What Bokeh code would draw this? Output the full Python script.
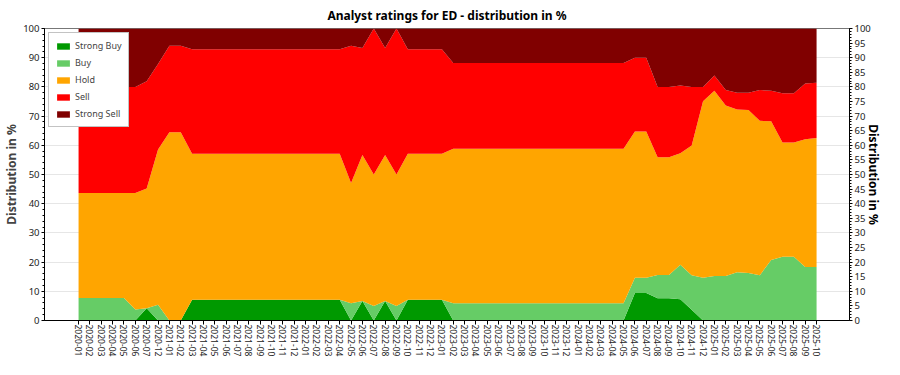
import math
from bokeh.plotting import figure
from bokeh.models import (Range1d, LinearAxis, FixedTicker, SingleIntervalTicker,
                          ColumnDataSource)
from bokeh.embed import file_html
from bokeh.resources import INLINE

months = [
    "2020-01", "2020-02", "2020-03", "2020-04", "2020-05", "2020-06", "2020-07", "2020-12",
    "2021-01", "2021-02", "2021-03", "2021-04", "2021-05", "2021-06", "2021-07", "2021-08",
    "2021-09", "2021-10", "2021-11", "2021-12",
    "2022-01", "2022-02", "2022-03", "2022-04", "2022-05", "2022-06", "2022-07", "2022-08",
    "2022-09", "2022-10", "2022-11", "2022-12",
    "2023-01", "2023-02", "2023-03", "2023-04", "2023-05", "2023-06", "2023-07", "2023-08",
    "2023-09", "2023-10", "2023-11", "2023-12",
    "2024-01", "2024-02", "2024-03", "2024-04", "2024-05", "2024-06", "2024-07", "2024-08",
    "2024-09", "2024-10", "2024-11", "2024-12",
    "2025-01", "2025-02", "2025-03", "2025-04", "2025-05", "2025-06", "2025-07", "2025-08",
    "2025-09", "2025-10",
]

strong_buy = [
    0, 0, 0, 0, 0, 0, 4.2, 0,
    0, 0, 7.1, 7.1, 7.1, 7.1, 7.1, 7.1, 7.1, 7.1, 7.1, 7.1,
    7.1, 7.1, 7.1, 7.1, 0, 6.7, 0, 6.7, 0, 7.1, 7.1, 7.1,
    7.1, 0, 0, 0, 0, 0, 0, 0, 0, 0, 0, 0,
    0, 0, 0, 0, 0, 9.4, 9.4, 7.6, 7.6, 7.3, 3.7, 0,
    0, 0, 0, 0, 0, 0, 0, 0, 0, 0,
]
buy = [
    7.7, 7.7, 7.7, 7.7, 7.7, 3.8, 0, 5.4,
    0, 0, 0, 0, 0, 0, 0, 0, 0, 0, 0, 0,
    0, 0, 0, 0, 5.9, 0, 5.0, 0, 5.0, 0, 0, 0,
    0, 5.9, 5.9, 5.9, 5.9, 5.9, 5.9, 5.9, 5.9, 5.9, 5.9, 5.9,
    5.9, 5.9, 5.9, 5.9, 5.9, 5.2, 5.2, 8.0, 8.0, 11.8, 11.8, 14.6,
    15.2, 15.2, 16.5, 16.3, 15.5, 20.7, 21.8, 21.8, 18.3, 18.3,
]
hold = [
    36.0, 36.0, 36.0, 36.0, 36.0, 39.9, 41.0, 53.2,
    64.5, 64.5, 50.0, 50.0, 50.0, 50.0, 50.0, 50.0, 50.0, 50.0, 50.0, 50.0,
    50.0, 50.0, 50.0, 50.0, 41.2, 50.0, 45.0, 50.0, 45.0, 50.0, 50.0, 50.0,
    50.0, 52.9, 52.9, 52.9, 52.9, 52.9, 52.9, 52.9, 52.9, 52.9, 52.9, 52.9,
    52.9, 52.9, 52.9, 52.9, 52.9, 50.1, 50.1, 40.3, 40.3, 38.2, 44.4, 60.5,
    63.5, 58.4, 55.8, 55.8, 52.9, 47.5, 39.2, 39.2, 43.8, 44.2,
]
sell = [
    36.3, 36.3, 36.3, 36.3, 36.3, 36.3, 36.7, 29.2,
    29.6, 29.6, 35.8, 35.8, 35.8, 35.8, 35.8, 35.8, 35.8, 35.8, 35.8, 35.8,
    35.8, 35.8, 35.8, 35.8, 47.0, 36.6, 50.0, 36.6, 50.0, 35.8, 35.8, 35.8,
    35.8, 29.4, 29.4, 29.4, 29.4, 29.4, 29.4, 29.4, 29.4, 29.4, 29.4, 29.4,
    29.4, 29.4, 29.4, 29.4, 29.4, 25.3, 25.3, 24.1, 24.1, 23.2, 20.1, 4.9,
    5.2, 5.3, 5.7, 5.9, 10.5, 10.5, 16.8, 16.8, 19.1, 18.9,
]
strong_sell = [
    20.0, 20.0, 20.0, 20.0, 20.0, 20.0, 18.1, 12.2,
    5.9, 5.9, 7.1, 7.1, 7.1, 7.1, 7.1, 7.1, 7.1, 7.1, 7.1, 7.1,
    7.1, 7.1, 7.1, 7.1, 5.9, 6.7, 0, 6.7, 0, 7.1, 7.1, 7.1,
    7.1, 11.8, 11.8, 11.8, 11.8, 11.8, 11.8, 11.8, 11.8, 11.8, 11.8, 11.8,
    11.8, 11.8, 11.8, 11.8, 11.8, 10.0, 10.0, 20.0, 20.0, 19.5, 20.0, 20.0,
    16.1, 21.1, 22.0, 22.0, 21.1, 21.3, 22.2, 22.2, 18.8, 18.6,
]

series_names = ["Strong Buy", "Buy", "Hold", "Sell", "Strong Sell"]
colors = ["#009900", "#66cc66", "#ffa500", "#ff0000", "#800000"]
axis_title = "Distribution in %"

FONT = "Noto Sans"

x_idx = list(range(len(months)))
x_start, x_end = -3.0, len(months) - 1 + 2.9
y_start, y_end = 0, 100

source = ColumnDataSource(data={
    "x": x_idx,
    "Strong Buy": strong_buy,
    "Buy": buy,
    "Hold": hold,
    "Sell": sell,
    "Strong Sell": strong_sell,
})

p = figure(width=884, height=359, output_backend="svg", toolbar_location=None,
           x_range=Range1d(x_start, x_end), y_range=Range1d(y_start, y_end),
           title="Analyst ratings for ED - distribution in %",
           min_border_left=0, min_border_right=0, min_border_top=0, min_border_bottom=0)

p.varea_stack(stackers=series_names, x="x", color=colors, source=source,
              legend_label=series_names)

p.title.align = "center"
p.title.text_font = FONT
p.title.text_font_size = "12px"
p.title.text_font_style = "bold"
p.title.text_color = "#000000"
p.title.standoff = 9
p.title.offset = 0

p.outline_line_color = "#777777"
p.background_fill_color = "white"
p.border_fill_color = "white"

p.xgrid.visible = False
p.ygrid.ticker = SingleIntervalTicker(interval=10)
p.ygrid.grid_line_color = "#e6e6e6"

xa = p.xaxis[0]
xa.ticker = FixedTicker(ticks=x_idx)
xa.major_label_overrides = {i: m for i, m in enumerate(months)}
xa.major_label_orientation = -math.pi / 2
xa.major_label_text_font = FONT
xa.major_label_text_font_size = "8.5px"
xa.major_label_text_color = "#222222"
xa.major_tick_out = 4
xa.major_tick_in = 0
xa.minor_tick_out = 0
xa.axis_line_color = "#000000"
xa.major_label_standoff = 0

ya = p.yaxis[0]
ya.ticker = SingleIntervalTicker(interval=10, num_minor_ticks=5)
ya.axis_label = axis_title
ya.axis_label_text_font = FONT
ya.axis_label_text_font_size = "12px"
ya.axis_label_text_font_style = "bold"
ya.axis_label_standoff = 0
ya.major_label_text_font = FONT
ya.major_label_text_font_size = "9.5px"
ya.major_label_text_color = "#222222"
ya.major_tick_out = 3
ya.major_tick_in = 0
ya.minor_tick_out = 2
ya.minor_tick_in = 0
ya.major_label_standoff = 2

ra = LinearAxis(ticker=SingleIntervalTicker(interval=5, num_minor_ticks=5),
                axis_label=axis_title)
ra.axis_label_text_font = FONT
ra.axis_label_text_font_size = "12px"
ra.axis_label_text_font_style = "bold"
ra.axis_label_text_color = "#000000"
ra.axis_label_standoff = -9
ra.major_label_text_font = FONT
ra.major_label_text_font_size = "9.5px"
ra.major_label_text_color = "#222222"
ra.major_tick_out = 3
ra.major_tick_in = 0
ra.minor_tick_out = 2
ra.minor_tick_in = 0
ra.major_label_standoff = 2
p.add_layout(ra, "right")

lg = p.legend[0]
lg.location = "top_left"
lg.margin = 4
lg.padding = 6
lg.spacing = 4
lg.label_height = 12
lg.glyph_height = 8
lg.glyph_width = 16
lg.label_text_font = FONT
lg.label_text_font_size = "9px"
lg.label_standoff = 4
lg.border_line_color = "#888888"
lg.background_fill_alpha = 1.0

open("out.html", "w").write(file_html(p, INLINE))
